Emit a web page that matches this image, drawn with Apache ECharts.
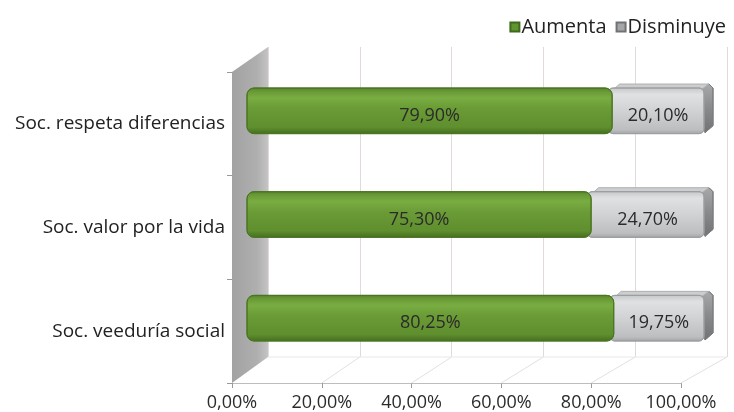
<!DOCTYPE html>
<html>
<head>
<meta charset="utf-8">
<script src="https://cdn.jsdelivr.net/npm/echarts@6/dist/echarts.min.js"></script>
<style>
  html, body { margin: 0; padding: 0; background: #ffffff; }
  #chart { width: 734px; height: 412px; }
</style>
</head>
<body>
<div id="chart"></div>
<script>
// Survey results: share of answers per item
const categories = ['Soc. respeta diferencias', 'Soc. valor por la vida', 'Soc. veeduría social'];
const seriesNames = ['Aumenta', 'Disminuye'];
const aumenta = [79.90, 75.30, 80.25];
const disminuye = [20.10, 24.70, 19.75];
const xTicks = [0, 20, 40, 60, 80, 100];

const FONT = '"Open Sans", "DejaVu Sans", sans-serif';
const fmt = v => v.toFixed(2).replace('.', ',') + '%';

// Pseudo-3D box layout: front plane, back wall plane and the bar plane in between
const FRONT = { left: 232, top: 72, width: 449, height: 311 };
const BACK  = { left: 268, top: 47, width: 459, height: 310 };
const BARS  = { left: 247, top: 59, width: 457, height: 311 };
const BAR_RATIO = 0.44;
const SIDE = [9, -5];

const chart = echarts.init(document.getElementById('chart'), null, { renderer: 'canvas' });

function txt(x, y, text) {
  return {
    type: 'text', z2: 10,
    style: { x: x, y: y, text: text, align: 'center', verticalAlign: 'middle',
             fill: '#2b2b2b', font: '18px ' + FONT }
  };
}

function renderGreen(params, api) {
  const s = api.coord([api.value(0), api.value(2)]);
  const e = api.coord([api.value(1), api.value(2)]);
  const h = api.size([0, 1])[1] * BAR_RATIO;
  const y0 = s[1] - h / 2;
  const w = e[0] - s[0];
  return {
    type: 'group',
    children: [
      {
        type: 'rect',
        shape: { x: s[0], y: y0, width: w, height: h, r: 7 },
        style: {
          fill: new echarts.graphic.LinearGradient(0, 0, 0, 1, [
            { offset: 0, color: '#547d2b' },
            { offset: 0.07, color: '#679734' },
            { offset: 0.22, color: '#79ad42' },
            { offset: 0.45, color: '#6a9b36' },
            { offset: 0.85, color: '#5f8f2e' },
            { offset: 1, color: '#456d1f' }
          ]),
          stroke: '#4a7523', lineWidth: 1
        }
      },
      txt(s[0] + w / 2, s[1] + 5, fmt(api.value(1) - api.value(0)))
    ]
  };
}

function renderGrey(params, api) {
  const s = api.coord([api.value(0), api.value(2)]);
  const e = api.coord([api.value(1), api.value(2)]);
  const h = api.size([0, 1])[1] * BAR_RATIO;
  const y0 = s[1] - h / 2;
  const x0 = s[0] - 4;
  const x1 = e[0];
  const dx = SIDE[0], dy = SIDE[1];
  return {
    type: 'group',
    children: [
      {
        type: 'polygon',
        shape: { points: [[x1 - 6, y0 + 1], [x1 + dx - 4, y0 + dy + 1], [x1 + dx, y0 + dy + 5], [x1 + dx, y0 + h + dy - 3], [x1 + 1, y0 + h - 1]] },
        style: {
          fill: new echarts.graphic.LinearGradient(0, 0, 0, 1, [
            { offset: 0, color: '#a7a9ab' },
            { offset: 0.5, color: '#888a8c' },
            { offset: 1, color: '#707274' }
          ]),
          stroke: '#7a7c7e', lineWidth: 1
        }
      },
      {
        type: 'polygon',
        shape: { points: [[x0 + 6, y0 + 1], [x0 + 6 + dx * 0.6, y0 + dy + 1], [x1 + dx - 4, y0 + dy + 1], [x1 - 2, y0 + 1]] },
        style: { fill: '#cbcdcf', stroke: '#aeb0b2', lineWidth: 1 }
      },
      {
        type: 'rect',
        shape: { x: x0, y: y0, width: x1 - x0, height: h, r: 5 },
        style: {
          fill: new echarts.graphic.LinearGradient(0, 0, 0, 1, [
            { offset: 0, color: '#c4c6c8' },
            { offset: 0.15, color: '#dfe1e3' },
            { offset: 0.5, color: '#d0d2d4' },
            { offset: 0.9, color: '#bcbec0' },
            { offset: 1, color: '#a2a4a6' }
          ]),
          stroke: '#9c9ea0', lineWidth: 1
        }
      },
      txt((x0 + x1) / 2 + 2, s[1] + 5, fmt(api.value(1) - api.value(0)))
    ]
  };
}

const greenData = aumenta.map((v, i) => [0, v, i]);
const greyData = disminuye.map((v, i) => [aumenta[i], aumenta[i] + v, i]);

const hiddenCat = {
  type: 'category', data: categories, inverse: true,
  axisLine: { show: false }, axisTick: { show: false }, axisLabel: { show: false }, splitLine: { show: false }
};

chart.setOption({
  backgroundColor: '#ffffff',
  animation: false,
  textStyle: { fontFamily: FONT },
  legend: {
    data: seriesNames,
    right: 3, top: 12,
    icon: 'rect', itemWidth: 9, itemHeight: 9, itemGap: 9,
    textStyle: { fontSize: 20, color: '#222', fontFamily: FONT, padding: [0, 0, 0, -3] }
  },
  grid: [
    Object.assign({ containLabel: false }, FRONT),
    Object.assign({ containLabel: false }, BACK),
    Object.assign({ containLabel: false }, BARS)
  ],
  xAxis: [
    {
      gridIndex: 0, type: 'value', min: 0, max: 100, interval: 20,
      axisLine: { show: true, lineStyle: { color: '#bdbdbd' } },
      axisTick: { show: true, length: 5, lineStyle: { color: '#9a9a9a' } },
      axisLabel: { formatter: v => fmt(v), fontSize: 18, color: '#2b2b2b', margin: 11, fontFamily: FONT },
      splitLine: { show: false }
    },
    {
      gridIndex: 1, type: 'value', min: 0, max: 100, interval: 20,
      axisLine: { show: false }, axisTick: { show: false }, axisLabel: { show: false },
      splitLine: { show: true, lineStyle: { color: '#e2dada', width: 1 } }
    },
    {
      gridIndex: 2, type: 'value', min: 0, max: 100,
      axisLine: { show: false }, axisTick: { show: false }, axisLabel: { show: false }, splitLine: { show: false }
    }
  ],
  yAxis: [
    {
      gridIndex: 0, type: 'category', data: categories, inverse: true,
      axisLine: { show: false },
      axisTick: { show: true, length: 5, lineStyle: { color: '#9a9a9a' } },
      axisLabel: { fontSize: 19, color: '#222', margin: 7, fontFamily: FONT },
      splitLine: { show: false }
    },
    Object.assign({ gridIndex: 1 }, hiddenCat),
    Object.assign({ gridIndex: 2 }, hiddenCat)
  ],
  series: [
    {
      name: seriesNames[0], type: 'custom', xAxisIndex: 2, yAxisIndex: 2,
      renderItem: renderGreen, data: greenData, z: 5,
      encode: { x: [0, 1], y: 2 },
      itemStyle: { color: '#5f9430', borderColor: '#3f6a1c', borderWidth: 1 }
    },
    {
      name: seriesNames[1], type: 'custom', xAxisIndex: 2, yAxisIndex: 2,
      renderItem: renderGrey, data: greyData, z: 4,
      encode: { x: [0, 1], y: 2 },
      itemStyle: { color: '#a4a6a8', borderColor: '#707274', borderWidth: 1 }
    }
  ]
});

// Side wall and floor of the box, placed from the front and back axes
const fx = v => chart.convertToPixel({ xAxisIndex: 0 }, v);
const bx = v => chart.convertToPixel({ xAxisIndex: 1 }, v);
const fTop = FRONT.top, fBot = FRONT.top + FRONT.height;
const bTop = BACK.top, bBot = BACK.top + BACK.height;

const graphics = [];
xTicks.forEach(v => {
  if (v === 0) return;
  graphics.push({
    type: 'line', z: 1,
    shape: { x1: fx(v), y1: fBot, x2: bx(v), y2: bBot },
    style: { stroke: '#e6dfdf', lineWidth: 1 }
  });
});
graphics.push({
  type: 'line', z: 1,
  shape: { x1: bx(0), y1: bBot, x2: bx(100), y2: bBot },
  style: { stroke: '#ece6e6', lineWidth: 1 }
});
graphics.push({
  type: 'polygon', z: 2,
  shape: { points: [[fx(0), fTop], [bx(0), bTop], [bx(0), bBot], [fx(0), fBot]] },
  style: {
    fill: new echarts.graphic.LinearGradient(0, 0, 1, 0, [
      { offset: 0, color: '#a2a2a2' },
      { offset: 0.7, color: '#afafaf' },
      { offset: 1, color: '#c4c4c4' }
    ])
  }
});
chart.setOption({ graphic: graphics });
</script>
</body>
</html>
